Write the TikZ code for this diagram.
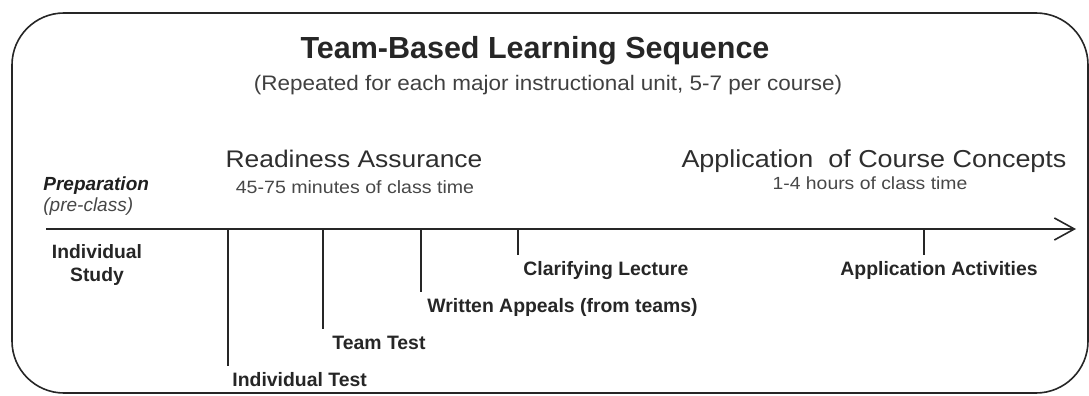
\documentclass[tikz,border=0pt]{standalone}
\usepackage{fontspec}
\setmainfont{Liberation Sans}
\newfontfamily\widefont[FakeStretch=1.1]{Liberation Sans}
\newfontfamily\subfont[FakeStretch=1.07]{Liberation Sans}
\usetikzlibrary{positioning,arrows.meta}

\begin{document}
\begin{tikzpicture}[x=1pt,y=-1pt,>={Straight Barb[length=20pt,width=22pt,line width=1.6pt]},thick,
    head/.style={inner sep=0pt,anchor=base,text=black!82,font=\widefont\fontsize{24}{27}\selectfont},
    note/.style={inner sep=0pt,anchor=base,text=black!72,font=\widefont\fontsize{17.8}{20}\selectfont},
    event/.style={inner xsep=0pt,inner ysep=6pt,anchor=base west,text=black!85,font=\bfseries\fontsize{19.4}{22}\selectfont},
    tick/.style={line width=1.6pt,draw=black!85}]
                \useasboundingbox (0,0) rectangle (1089,396);
                \draw[line width=1.6pt,draw=black!85,rounded corners=52pt] (12,13) rectangle (1088,393);

                \node[inner sep=0pt,anchor=base,text=black!85,font=\bfseries\fontsize{30.5}{34}\selectfont] (title) at (535,59) {Team-Based Learning Sequence};
                \node[inner sep=0pt,anchor=base,text=black!75,font=\subfont\fontsize{21}{24}\selectfont] (sub) at (548,90) {(Repeated for each major instructional unit, 5-7 per course)};

                \node[head] (ra) at (354,167) {Readiness Assurance};
                \node[note] (ratime) at (355,193) {45-75 minutes of class time};
                \node[head,font=\widefont\fontsize{24.5}{27}\selectfont] (app) at (874,167) {Application\ \ of Course Concepts};
                \node[note,font=\widefont\fontsize{17.6}{20}\selectfont] (apptime) at (870,189) {1-4 hours of class time};

                \node[inner sep=0pt,anchor=base west,text=black!88,font=\bfseries\itshape\fontsize{19}{22}\selectfont] (prep) at (43,190) {Preparation};
                \node[inner sep=0pt,anchor=base west,text=black!72,font=\itshape\fontsize{19}{22}\selectfont] (pre) at (43,211) {(pre-class)};
                \node[inner sep=0pt,align=center,anchor=base,text=black!85,font=\bfseries\fontsize{19.3}{23}\selectfont] (study) at (97,281) {Individual\\Study};

                % time line
                \coordinate (start) at (46,229);
                \coordinate (end) at (1076,229);
                \draw[->,line width=1.9pt,draw=black!85] (start) -- (end);

                \coordinate (t1) at (228,229);
                \coordinate (t2) at (323,229);
                \coordinate (t3) at (421,229);
                \coordinate (t4) at (518,229);
                \coordinate (t5) at (924,229);

                \node[event] (e1) at (232,386) {Individual Test};
                \node[event] (e2) at (332,349) {Team Test};
                \node[event] (e3) at (427,312) {Written Appeals\ (from teams)};
                \node[event] (e4) at (523,275) {Clarifying Lecture};
                \node[event] (e5) at (840,275) {Application Activities};

                \path[tick]
                    (t1) edge (t1 |- e1.north)
                    (t2) edge (t2 |- e2.north)
                    (t3) edge (t3 |- e3.north)
                    (t4) edge (t4 |- e4.north)
                    (t5) edge (t5 |- e5.north)
                    ;
            \end{tikzpicture}
\end{document}
